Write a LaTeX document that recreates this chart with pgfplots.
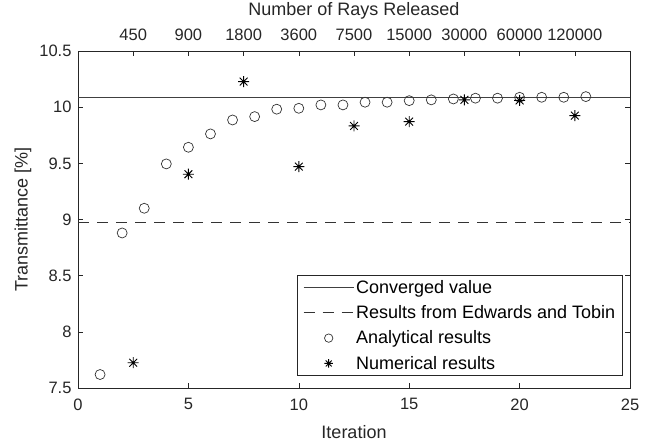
\documentclass[border=0pt]{standalone}
\usepackage{fontspec}
\setmainfont{Liberation Sans}
\usepackage{pgfplots}
\pgfplotsset{compat=1.18}
\definecolor{axc}{rgb}{0.15,0.15,0.15}
\pgfdeclareplotmark{mstar}{%
  \pgfpathmoveto{\pgfqpoint{0pt}{\pgfplotmarksize}}%
  \pgfpathlineto{\pgfqpoint{0pt}{-\pgfplotmarksize}}%
  \pgfpathmoveto{\pgfqpoint{-\pgfplotmarksize}{0pt}}%
  \pgfpathlineto{\pgfqpoint{\pgfplotmarksize}{0pt}}%
  \pgfpathmoveto{\pgfqpoint{-.7071\pgfplotmarksize}{-.7071\pgfplotmarksize}}%
  \pgfpathlineto{\pgfqpoint{.7071\pgfplotmarksize}{.7071\pgfplotmarksize}}%
  \pgfpathmoveto{\pgfqpoint{-.7071\pgfplotmarksize}{.7071\pgfplotmarksize}}%
  \pgfpathlineto{\pgfqpoint{.7071\pgfplotmarksize}{-.7071\pgfplotmarksize}}%
  \pgfusepathqstroke
}
\pgfplotsset{
  lineleg/.style={legend image code/.code={\draw[##1] (0bp,0bp) -- (50bp,0bp);}},
  markleg/.style={legend image code/.code={\draw[##1,mark size=4.2bp,mark repeat=2,mark phase=2] plot coordinates {(0bp,0bp) (25bp,0bp) (50bp,0bp)};}},
}
\pgfplotstableread{
x y
1 7.62
2 8.88
3 9.10
4 9.495
5 9.643
6 9.762
7 9.886
8 9.916
9 9.982
10 9.99
11 10.02
12 10.02
13 10.044
14 10.044
15 10.058
16 10.065
17 10.073
18 10.08
19 10.08
20 10.088
21 10.088
22 10.088
23 10.094
}\analytical
\pgfplotstableread{
x y
2.5 7.725
5 9.403
7.5 10.228
10 9.471
12.5 9.833
15 9.871
17.5 10.065
20 10.06
22.5 9.925
}\numerical
\begin{document}
\begin{tikzpicture}
\useasboundingbox (0,0) rectangle (660bp,448bp);
\begin{axis}[
  at={(78bp,60bp)}, anchor=south west,
  width=552bp, height=337bp, scale only axis,
  xmin=0, xmax=25, ymin=7.5, ymax=10.5,
  xtick={0,5,10,15,20,25}, xticklabels={0,5,10,15,20,25},
  ytick={7.5,8,8.5,9,9.5,10,10.5}, yticklabels={7.5,8,8.5,9,9.5,10,10.5},
  xtick pos=left, ytick pos=both,
  tick align=inside, major tick length=5bp,
  /pgf/number format/assume math mode=true,
  axis line style={axc, line width=0.6bp},
  every tick/.style={axc, line width=0.6bp},
  tick label style={font=\fontsize{16.5bp}{19bp}\selectfont, text=axc},
  xticklabel style={yshift=-7bp},
  yticklabel style={xshift=-3bp},
  label style={font=\fontsize{18bp}{21bp}\selectfont, text=axc},
  xlabel={Iteration},
  xlabel style={at={(axis description cs:0.5,-0.1306)}, anchor=center},
  ylabel={Transmittance [\%]},
  ylabel style={at={(axis description cs:-0.0996,0.5)}, anchor=center},
  legend style={at={(1,0)}, anchor=south east, xshift=-7bp, yshift=12bp,
    draw=axc, line width=0.6bp, inner xsep=5.5bp, inner ysep=3bp,
    font=\fontsize{18bp}{21bp}\selectfont, row sep=6.8bp,
    cells={anchor=west}, text=black},
  legend cell align=left,
]
\addplot[black!75, line width=0.8bp, lineleg]
  coordinates {(0,10.09) (25,10.09)};
\addlegendentry{Converged value}
\addplot[black!80, line width=0.8bp, dash pattern=on 11bp off 8bp, lineleg]
  coordinates {(0,8.97) (25,8.97)};
\addlegendentry{Results from Edwards and Tobin}
\addplot[only marks, mark=o, mark size=5bp, black!80, line width=0.7bp, markleg]
  table {\analytical};
\addlegendentry{Analytical results}
\addplot[only marks, mark=mstar, mark size=5.5bp, black, line width=0.9bp, markleg]
  table {\numerical};
\addlegendentry{Numerical results}
\end{axis}
\begin{axis}[
  at={(78bp,60bp)}, anchor=south west,
  width=552bp, height=337bp, scale only axis,
  xmin=0, xmax=25, ymin=7.5, ymax=10.5,
  hide y axis,
  xtick={2.5,5,7.5,10,12.5,15,17.5,20,22.5},
  xticklabels={450,900,1800,3600,7500,15000,30000,60000,120000},
  xtick pos=right, xticklabel pos=right,
  tick align=inside, major tick length=5bp,
  axis line style={axc, line width=0.6bp},
  every tick/.style={axc, line width=0.6bp},
  tick label style={font=\fontsize{16.5bp}{19bp}\selectfont, text=axc},
  xticklabel style={yshift=7bp},
  label style={font=\fontsize{18bp}{21bp}\selectfont, text=axc},
  xlabel={Number of Rays Released},
  xlabel style={at={(axis description cs:0.5,1.1187)}, anchor=center},
]
\end{axis}
\end{tikzpicture}
\end{document}
